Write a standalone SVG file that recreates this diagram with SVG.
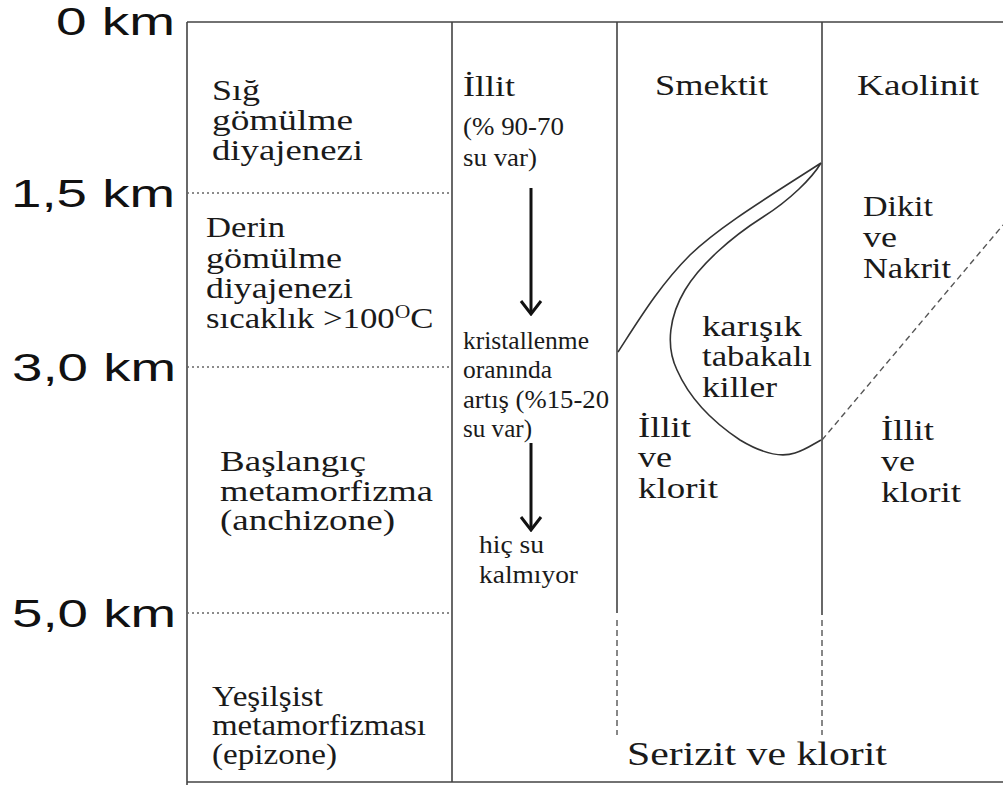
<svg xmlns="http://www.w3.org/2000/svg" width="1003" height="785" viewBox="0 0 1003 785">
<defs>
<style>
.frame{stroke:#444;stroke-width:1.6;fill:none}
.dot{stroke:#666;stroke-width:1.3;stroke-dasharray:2 3;fill:none}
.dash{stroke:#555;stroke-width:1.4;stroke-dasharray:6 4;fill:none}
.curve{stroke:#333;stroke-width:1.6;fill:none}
.arrow{stroke:#111;stroke-width:3;fill:none}
.km{font-family:"Liberation Sans",Arial,sans-serif;font-size:38px;fill:#111;text-anchor:end}
.t{font-family:"Liberation Serif","Times New Roman",serif;font-size:29px;fill:#1a1a1a}
.s{font-family:"Liberation Serif","Times New Roman",serif;font-size:25px;fill:#1a1a1a}
.b{font-family:"Liberation Serif","Times New Roman",serif;font-size:33px;fill:#1a1a1a}
</style>
<marker id="ah" markerUnits="userSpaceOnUse" markerWidth="16" markerHeight="24" viewBox="0 0 16 24" refX="14" refY="12" orient="auto">
<path d="M1,2 L14,12 L1,22" fill="none" stroke="#111" stroke-width="3"/>
</marker>
</defs>
<rect width="1003" height="785" fill="#fff"/>
<g id="frame">
<path class="frame" d="M187,22 H1003 M187,22 V785 M187,782 H1003 M452,22 V782 M617,22 V613 M822,22 V615"/>
<path class="dot" d="M187,193 H452 M187,367 H452 M187,613 H452"/>
<path class="dash" d="M617,620 V735 M822,620 V735"/>
</g>
<g id="depth-scale">
<text class="km" x="175" y="35" textLength="119" lengthAdjust="spacingAndGlyphs">0 km</text>
<text class="km" x="175" y="207" textLength="164" lengthAdjust="spacingAndGlyphs">1,5 km</text>
<text class="km" x="176" y="381" textLength="164" lengthAdjust="spacingAndGlyphs">3,0 km</text>
<text class="km" x="176" y="627" textLength="164" lengthAdjust="spacingAndGlyphs">5,0 km</text>
</g>
<g id="zone-shallow">
<text class="t" x="212" y="100" textLength="48" lengthAdjust="spacingAndGlyphs">Sığ</text>
<text class="t" x="212" y="130" textLength="141" lengthAdjust="spacingAndGlyphs">gömülme</text>
<text class="t" x="212" y="160" textLength="151" lengthAdjust="spacingAndGlyphs">diyajenezi</text>
</g>
<g id="zone-deep">
<text class="t" x="206" y="237" textLength="79" lengthAdjust="spacingAndGlyphs">Derin</text>
<text class="t" x="206" y="268" textLength="136" lengthAdjust="spacingAndGlyphs">gömülme</text>
<text class="t" x="206" y="298" textLength="147" lengthAdjust="spacingAndGlyphs">diyajenezi</text>
<text class="t" transform="translate(206,328) scale(1.2,1)" x="0" y="0">sıcaklık &gt;100<tspan font-size="18" dy="-10">O</tspan><tspan dy="10">C</tspan></text>
</g>
<g id="zone-anchizone">
<text class="t" x="220" y="471" textLength="146" lengthAdjust="spacingAndGlyphs">Başlangıç</text>
<text class="t" x="220" y="501" textLength="213" lengthAdjust="spacingAndGlyphs">metamorfizma</text>
<text class="t" x="220" y="530" textLength="175" lengthAdjust="spacingAndGlyphs">(anchizone)</text>
</g>
<g id="zone-epizone">
<text class="t" x="212" y="706" textLength="111" lengthAdjust="spacingAndGlyphs">Yeşilşist</text>
<text class="t" x="212" y="735" textLength="214" lengthAdjust="spacingAndGlyphs">metamorfizması</text>
<text class="t" x="212" y="764" textLength="125" lengthAdjust="spacingAndGlyphs">(epizone)</text>
</g>
<g id="illit-column">
<text class="t" x="463" y="96" textLength="52" lengthAdjust="spacingAndGlyphs">İllit</text>
<text class="s" x="463" y="135" textLength="101" lengthAdjust="spacingAndGlyphs">(% 90-70</text>
<text class="s" x="463" y="166" textLength="74" lengthAdjust="spacingAndGlyphs">su var)</text>
<text class="s" x="463" y="349" textLength="126" lengthAdjust="spacingAndGlyphs">kristallenme</text>
<text class="s" x="463" y="378" textLength="89" lengthAdjust="spacingAndGlyphs">oranında</text>
<text class="s" x="463" y="408" textLength="146" lengthAdjust="spacingAndGlyphs">artış  (%15-20</text>
<text class="s" x="463" y="437" textLength="69" lengthAdjust="spacingAndGlyphs">su var)</text>
<text class="s" x="479" y="553" textLength="65" lengthAdjust="spacingAndGlyphs">hiç su</text>
<text class="s" x="479" y="583" textLength="99" lengthAdjust="spacingAndGlyphs">kalmıyor</text>
</g>
<g id="smektit-column">
<text class="t" x="655" y="95" textLength="113" lengthAdjust="spacingAndGlyphs">Smektit</text>
<text class="t" x="638" y="437" textLength="53" lengthAdjust="spacingAndGlyphs">İllit</text>
<text class="t" x="638" y="467" textLength="34" lengthAdjust="spacingAndGlyphs">ve</text>
<text class="t" x="638" y="498" textLength="80" lengthAdjust="spacingAndGlyphs">klorit</text>
</g>
<g id="mixed-layer">
<path class="curve" d="M618,352 C640,318 660,285 690,255 C720,226 770,196 821,163 C812,178 790,200 763,217 C730,238 700,265 685,290 C670,315 665,345 677,370 C688,395 710,420 740,440 C760,452 780,458 795,453 C805,450 812,445 821,440"/>
<text class="t" x="702" y="336" textLength="100" lengthAdjust="spacingAndGlyphs">karışık</text>
<text class="t" x="702" y="366" textLength="110" lengthAdjust="spacingAndGlyphs">tabakalı</text>
<text class="t" x="702" y="397" textLength="75" lengthAdjust="spacingAndGlyphs">killer</text>
</g>
<g id="kaolinit-column">
<path class="dash" d="M822,440 L1003,225"/>
<text class="t" x="857" y="95" textLength="122" lengthAdjust="spacingAndGlyphs">Kaolinit</text>
<text class="t" x="863" y="216" textLength="70" lengthAdjust="spacingAndGlyphs">Dikit</text>
<text class="t" x="863" y="247" textLength="34" lengthAdjust="spacingAndGlyphs">ve</text>
<text class="t" x="863" y="278" textLength="88" lengthAdjust="spacingAndGlyphs">Nakrit</text>
<text class="t" x="881" y="440" textLength="53" lengthAdjust="spacingAndGlyphs">İllit</text>
<text class="t" x="881" y="471" textLength="34" lengthAdjust="spacingAndGlyphs">ve</text>
<text class="t" x="881" y="502" textLength="80" lengthAdjust="spacingAndGlyphs">klorit</text>
</g>
<g id="sericite">
<text class="b" x="627" y="765" textLength="260" lengthAdjust="spacingAndGlyphs">Serizit ve klorit</text>
</g>
<g id="connectors">
<line class="arrow" x1="531" y1="188" x2="531" y2="314" marker-end="url(#ah)"/>
<line class="arrow" x1="531" y1="443" x2="531" y2="530" marker-end="url(#ah)"/>
</g>
</svg>
